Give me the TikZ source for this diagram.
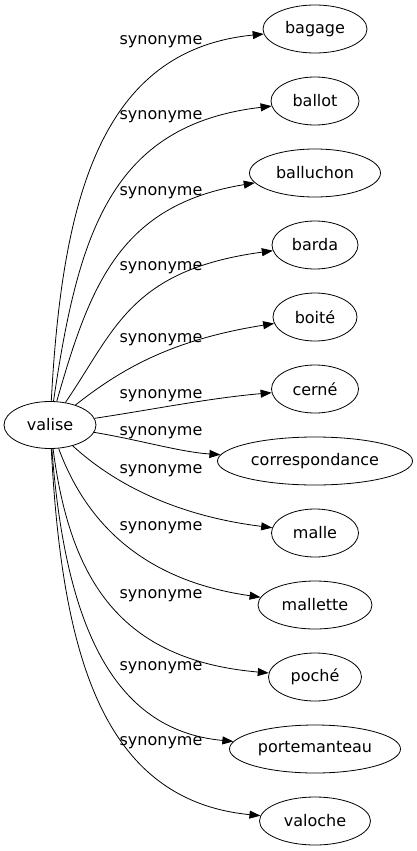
\documentclass[tikz,border=0pt]{standalone}
\usepackage{fontspec}
\setmainfont{DejaVu Sans}
\usetikzlibrary{shapes.geometric,arrows.meta}

\begin{document}
\begin{tikzpicture}[x=1pt,y=-1pt,line width=0.8pt,font=\fontsize{16}{19}\selectfont]

      \useasboundingbox (0,0) rectangle (416,851);

      \begin{scope}[every node/.style={ellipse,draw,inner sep=0pt,minimum height=48pt}]
        \node[minimum width=92pt,minimum height=47pt] (0) at (50,425) {valise};
        \node[minimum width=104pt] (1)  at (315,29)  {bagage};
        \node[minimum width=88pt]  (2)  at (315,101) {ballot};
        \node[minimum width=131pt] (3)  at (315,173) {balluchon};
        \node[minimum width=86pt]  (4)  at (315,245) {barda};
        \node[minimum width=84pt]  (5)  at (315,317) {boité};
        \node[minimum width=87pt]  (6)  at (315,389) {cerné};
        \node[minimum width=195pt] (7)  at (315,461) {correspondance};
        \node[minimum width=87pt]  (8)  at (315,533) {malle};
        \node[minimum width=114pt] (9)  at (315,605) {mallette};
        \node[minimum width=93pt]  (10) at (315,677) {poché};
        \node[minimum width=171pt] (11) at (315,749) {portemanteau};
        \node[minimum width=111pt] (12) at (315,821) {valoche};
      \end{scope}

      \begin{scope}[every node/.style={inner sep=0pt}]
        \node (s1)  at (161,42)  {synonyme};
        \node (s2)  at (161,117) {synonyme};
        \node (s3)  at (161,193) {synonyme};
        \node (s4)  at (161,268) {synonyme};
        \node (s5)  at (161,340) {synonyme};
        \node (s6)  at (161,396) {synonyme};
        \node (s7)  at (161,433) {synonyme};
        \node (s8)  at (161,471) {synonyme};
        \node (s9)  at (161,528) {synonyme};
        \node (s10) at (161,596) {synonyme};
        \node (s11) at (161,668) {synonyme};
        \node (s12) at (161,743) {synonyme};
      \end{scope}

      \begin{scope}[-{Triangle[length=11pt,width=8pt]}]
        \draw (0) .. controls (62,200)  and (100,50)  .. (1);
        \draw (0) .. controls (78,235)  and (110,125) .. (2);
        \draw (0) .. controls (90,285)  and (120,205) .. (3);
        \draw (0) .. controls (115,330) and (130,270) .. (4);
        \draw (0) .. controls (120,370) and (170,340) .. (5);
        \draw (0) .. controls (150,410) and (210,398) .. (6);
        \draw (0) .. controls (140,440) and (180,452) .. (7);
        \draw (0) .. controls (110,480) and (170,515) .. (8);
        \draw (0) .. controls (85,520)  and (140,580) .. (9);
        \draw (0) .. controls (70,580)  and (120,660) .. (10);
        \draw (0) .. controls (65,620)  and (110,730) .. (11);
        \draw (0) .. controls (62,650)  and (100,800) .. (12);
      \end{scope}

    \end{tikzpicture}
\end{document}
